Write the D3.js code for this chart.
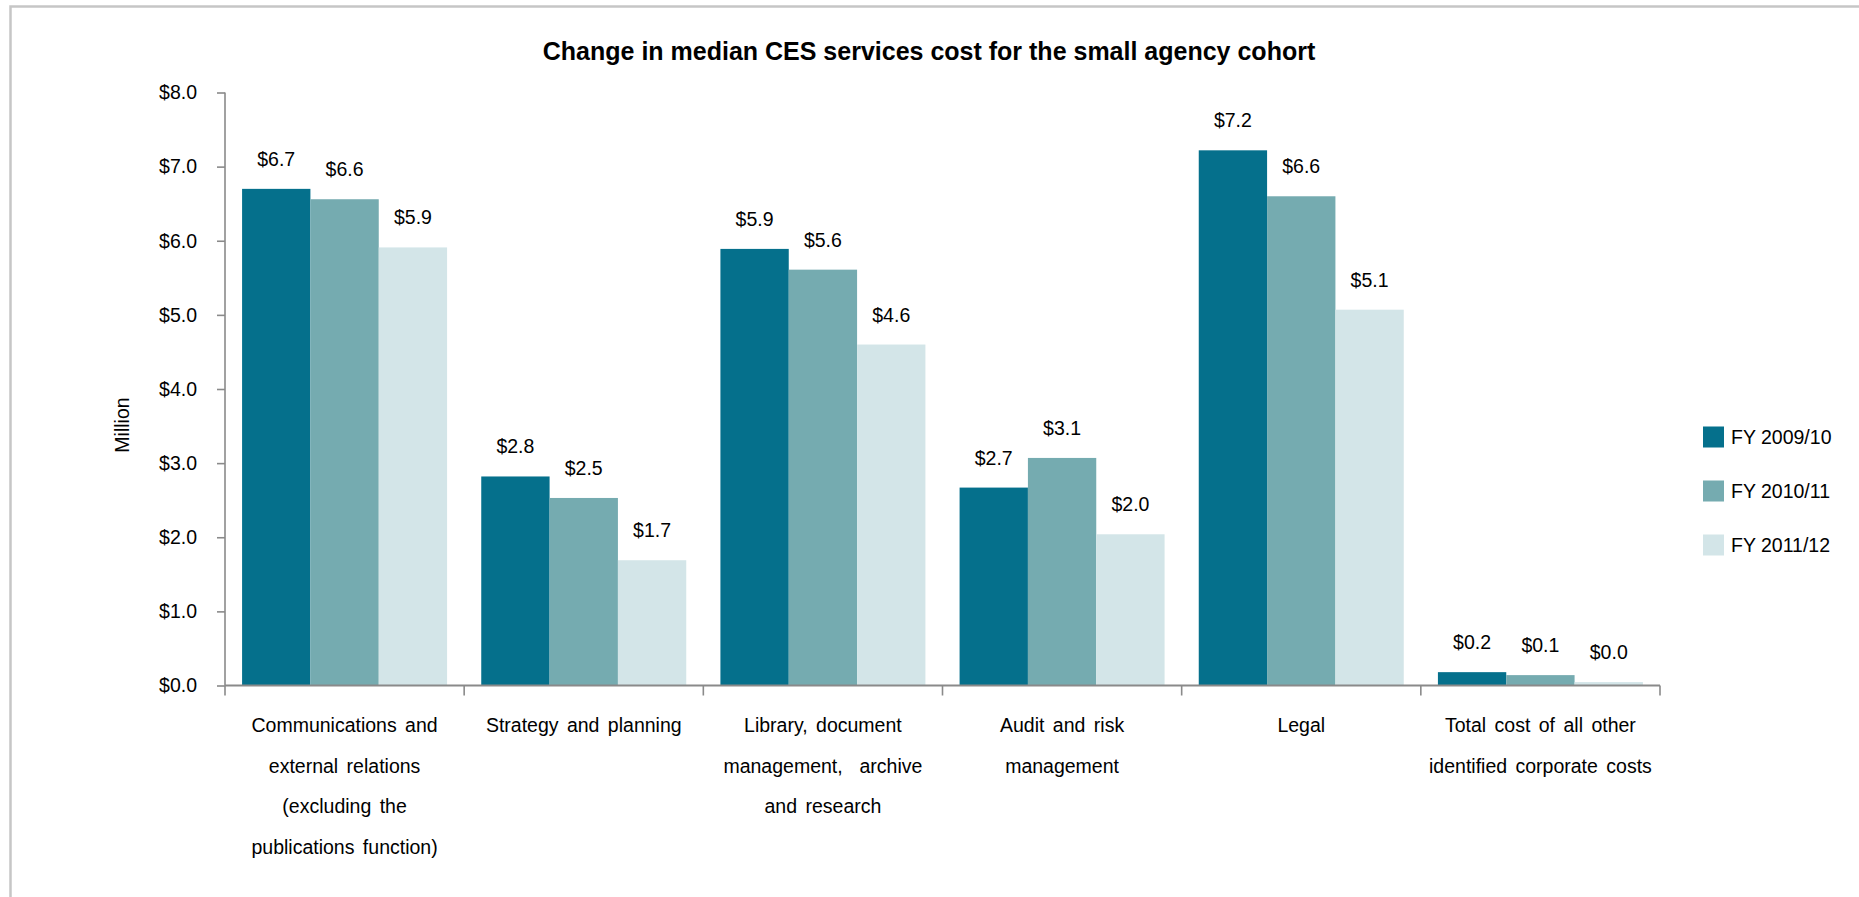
<!DOCTYPE html>
<html>
<head>
<meta charset="utf-8">
<script src="https://cdn.jsdelivr.net/npm/d3@7"></script>
<style>
  html, body { margin: 0; padding: 0; background: #fff; }
  svg { display: block; font-family: "Liberation Sans", Arial, sans-serif; }
</style>
</head>
<body>
<svg id="chart" width="1859" height="897"></svg>
<script>
// Median CES services cost (in $ million) for the small agency cohort
const categories = [
  "Communications and external relations (excluding the publications function)",
  "Strategy and planning",
  "Library, document management, archive and research",
  "Audit and risk management",
  "Legal",
  "Total cost of all other identified corporate costs"
];
const categoryLines = [
  ["Communications and", "external relations", "(excluding the", "publications function)"],
  ["Strategy and planning"],
  ["Library, document", "management,  archive", "and research"],
  ["Audit and risk", "management"],
  ["Legal"],
  ["Total cost of all other", "identified corporate costs"]
];
const seriesNames = ["FY 2009/10", "FY 2010/11", "FY 2011/12"];
const fy0910 = [6.70, 2.82, 5.89, 2.67, 7.22, 0.18];
const fy1011 = [6.56, 2.53, 5.61, 3.07, 6.60, 0.14];
const fy1112 = [5.91, 1.69, 4.60, 2.04, 5.07, 0.046];
const yTicks = [0, 1, 2, 3, 4, 5, 6, 7, 8];
const title = "Change in median CES services cost for the small agency cohort";
const yTitle = "Million";

const seriesValues = [fy0910, fy1011, fy1112];
const colors = ["#05708c", "#75abb0", "#d3e5e8"];

const svg = d3.select("#chart");
const fmt = d3.format("$.1f");
const fontSize = 19.5;

// outer frame
svg.append("rect")
  .attr("x", 10.5).attr("y", 6.5)
  .attr("width", 1900).attr("height", 950)
  .attr("fill", "none")
  .attr("stroke", "#c6c6c6")
  .attr("stroke-width", 2.5);

const plot = { left: 225, right: 1660, top: 92.5, bottom: 685.5 };

const x0 = d3.scaleBand().domain(d3.range(categories.length))
  .range([plot.left, plot.right]).paddingInner(0).paddingOuter(0);
const x1 = d3.scaleBand().domain(d3.range(seriesNames.length))
  .range([0, x0.bandwidth()]).paddingInner(0).paddingOuter(0.25);
const y = d3.scaleLinear().domain([0, 8]).range([plot.bottom, plot.top]);

// title
svg.append("text")
  .attr("x", 929).attr("y", 60)
  .attr("text-anchor", "middle")
  .attr("font-weight", "bold")
  .attr("font-size", 25)
  .attr("fill", "#000")
  .text(title);

// y axis
const yAxis = svg.append("g")
  .attr("transform", `translate(${plot.left},0)`)
  .call(d3.axisLeft(y).tickValues(yTicks).tickFormat(fmt).tickSize(8).tickPadding(20));
yAxis.select(".domain").attr("stroke", "#8a8a8a").attr("stroke-width", 1.6)
  .attr("d", `M0,${plot.top}V${plot.bottom}`);
yAxis.selectAll(".tick line").attr("stroke", "#8a8a8a").attr("stroke-width", 1.6);
yAxis.selectAll(".tick text")
  .attr("font-size", fontSize).attr("fill", "#000")
  .attr("font-family", "Liberation Sans, Arial, sans-serif");

// y axis title
svg.append("text")
  .attr("transform", `translate(129,425) rotate(-90)`)
  .attr("text-anchor", "middle")
  .attr("font-size", fontSize)
  .attr("fill", "#000")
  .text(yTitle);

// bars
const groups = svg.append("g").selectAll("g")
  .data(categories.map((c, i) => ({ i, vals: seriesValues.map(s => s[i]) })))
  .join("g")
  .attr("transform", d => `translate(${x0(d.i)},0)`);

groups.selectAll("rect")
  .data(d => d.vals.map((v, s) => ({ v, s })))
  .join("rect")
  .attr("x", d => x1(d.s))
  .attr("width", x1.bandwidth())
  .attr("y", d => y(d.v))
  .attr("height", d => y(0) - y(d.v))
  .attr("fill", d => colors[d.s]);

groups.selectAll("text.val")
  .data(d => d.vals.map((v, s) => ({ v, s })))
  .join("text")
  .attr("class", "val")
  .attr("x", d => x1(d.s) + x1.bandwidth() / 2)
  .attr("y", d => y(d.v) - 23)
  .attr("text-anchor", "middle")
  .attr("font-size", fontSize)
  .attr("fill", "#000")
  .text(d => fmt(d.v));

// x axis with category boundary ticks
const xAxis = svg.append("g");
xAxis.append("path")
  .attr("d", `M${plot.left},${plot.bottom}H${plot.right}`)
  .attr("stroke", "#8a8a8a").attr("stroke-width", 1.8).attr("fill", "none");
xAxis.selectAll("line.tick")
  .data(d3.range(categories.length + 1))
  .join("line")
  .attr("class", "tick")
  .attr("x1", i => i < categories.length ? x0(i) : plot.right)
  .attr("x2", i => i < categories.length ? x0(i) : plot.right)
  .attr("y1", plot.bottom).attr("y2", plot.bottom + 10)
  .attr("stroke", "#8a8a8a").attr("stroke-width", 1.6);

// category labels
const catLabels = svg.append("g").selectAll("text")
  .data(categoryLines)
  .join("text")
  .attr("text-anchor", "middle")
  .attr("font-size", fontSize)
  .attr("word-spacing", 3)
  .attr("fill", "#000")
  .attr("xml:space", "preserve")
  .style("white-space", "pre");
catLabels.each(function(lines, i) {
  const cx = x0(i) + x0.bandwidth() / 2;
  d3.select(this).selectAll("tspan")
    .data(lines)
    .join("tspan")
    .attr("x", cx)
    .attr("y", (d, k) => 732 + k * 40.7)
    .text(d => d);
});

// legend
const legend = svg.append("g").selectAll("g")
  .data(seriesNames)
  .join("g")
  .attr("transform", (d, i) => `translate(1703,${437 + i * 54})`);
legend.append("rect")
  .attr("x", 0).attr("y", -10.5)
  .attr("width", 21).attr("height", 21)
  .attr("fill", (d, i) => colors[i]);
legend.append("text")
  .attr("x", 28).attr("y", 0)
  .attr("dy", "0.35em")
  .attr("font-size", fontSize)
  .attr("fill", "#000")
  .text(d => d);
</script>
</body>
</html>
